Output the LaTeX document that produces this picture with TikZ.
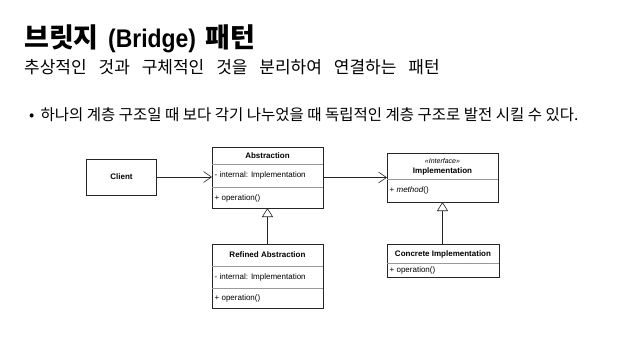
\documentclass[tikz,border=0pt]{standalone}
\usepackage{fontspec}
\setmainfont{Liberation Sans}
\newfontfamily\kr{Noto Sans CJK KR}
\newfontfamily\titlelat[FakeStretch=0.9]{Liberation Sans Bold}
\usetikzlibrary{arrows.meta}
\newcommand\wgap{\hspace{0.7em}}
\begin{document}
\begin{tikzpicture}[x=1pt,y=-1pt,
  cls/.style={draw=black!85, line width=0.6pt, inner sep=0pt, outer sep=0pt},
  sepline/.style={draw=black!40, line width=0.5pt},
  lbl/.style={inner sep=0pt, font=\fontsize{8}{9}\selectfont},
  cname/.style={inner sep=0pt, font=\fontsize{8}{9}\selectfont\bfseries},
  assoc/.style={draw=black!85, line width=0.6pt, -{Straight Barb[length=8pt,width=11pt]}},
  inherit/.style={draw=black!85, line width=0.6pt, -{Triangle[open,length=9pt,width=11pt,fill=white]}}
]
\useasboundingbox (0,0) rectangle (626,337);

% titles
\node[anchor=base west, inner sep=0pt, font=\kr\bfseries\fontsize{27}{32}\selectfont] (title) at (24,48) {브릿지\hspace{0.35em}{\titlelat\fontsize{25.5}{28}\selectfont (Bridge)}\hspace{0.35em}패턴};
\node[anchor=base west, inner sep=0pt, font=\kr\fontsize{17}{20}\selectfont] (subtitle) at (24,74) {추상적인\wgap 것과\wgap 구체적인\wgap 것을\wgap 분리하여\wgap 연결하는\wgap 패턴};
\node[anchor=base west, inner sep=0pt, font=\kr\fontsize{15.5}{18}\selectfont] (bullet) at (29,120) {•\hspace{0.4em}하나의 계층 구조일 때 보다 각기 나누었을 때 독립적인 계층 구조로 발전 시킬 수 있다.};

% Client
\node[cls, minimum width=70pt, minimum height=36pt] (client) at (121.5,177) {};
\node[cname] (clientname) at (client.center) {Client};

% Abstraction
\node[cls, minimum width=111pt, minimum height=61pt] (abs) at (267.5,177.5) {};
\draw[sepline] (abs.west |- 0,164) -- (abs.east |- 0,164);
\draw[sepline] (abs.west |- 0,187) -- (abs.east |- 0,187);
\node[cname] (absname) at (267.5,156) {Abstraction};
\node[lbl, anchor=west] (absattr) at (214.5,175.5) {- internal: Implementation};
\node[lbl, anchor=west] (absop) at (214.5,198.5) {+ operation()};

% Implementation
\node[cls, minimum width=111pt, minimum height=49pt] (impl) at (442.5,177.5) {};
\draw[sepline] (impl.west |- 0,179) -- (impl.east |- 0,179);
\node[inner sep=0pt, font=\fontsize{7}{8}\selectfont\itshape] (implst) at (442.5,160.5) {<<Interface>>};
\node[cname] (implname) at (442.5,171) {Implementation};
\node[lbl, anchor=west] (implop) at (389.5,190) {+ \textit{method}()};

% Refined Abstraction
\node[cls, minimum width=111pt, minimum height=64pt] (ref) at (267.5,276) {};
\draw[sepline] (ref.west |- 0,266) -- (ref.east |- 0,266);
\draw[sepline] (ref.west |- 0,288) -- (ref.east |- 0,288);
\node[cname] (refname) at (267.5,255) {Refined Abstraction};
\node[lbl, anchor=west] (refattr) at (214.5,277) {- internal: Implementation};
\node[lbl, anchor=west] (refop) at (214.5,298) {+ operation()};

% Concrete Implementation
\node[cls, minimum width=112pt, minimum height=33pt] (conc) at (443,260.5) {};
\draw[sepline] (conc.west |- 0,263) -- (conc.east |- 0,263);
\node[cname] (concname) at (443,254) {Concrete Implementation};
\node[lbl, anchor=west] (concop) at (389.5,270.5) {+ operation()};

% connectors
\draw[assoc] (client.east) -- (client.east -| abs.west);
\draw[assoc] (abs.east) -- (impl.west);
\draw[inherit] (ref.north) -- (abs.south);
\draw[inherit] (conc.north -| impl.south) -- (impl.south);
\end{tikzpicture}
\end{document}
